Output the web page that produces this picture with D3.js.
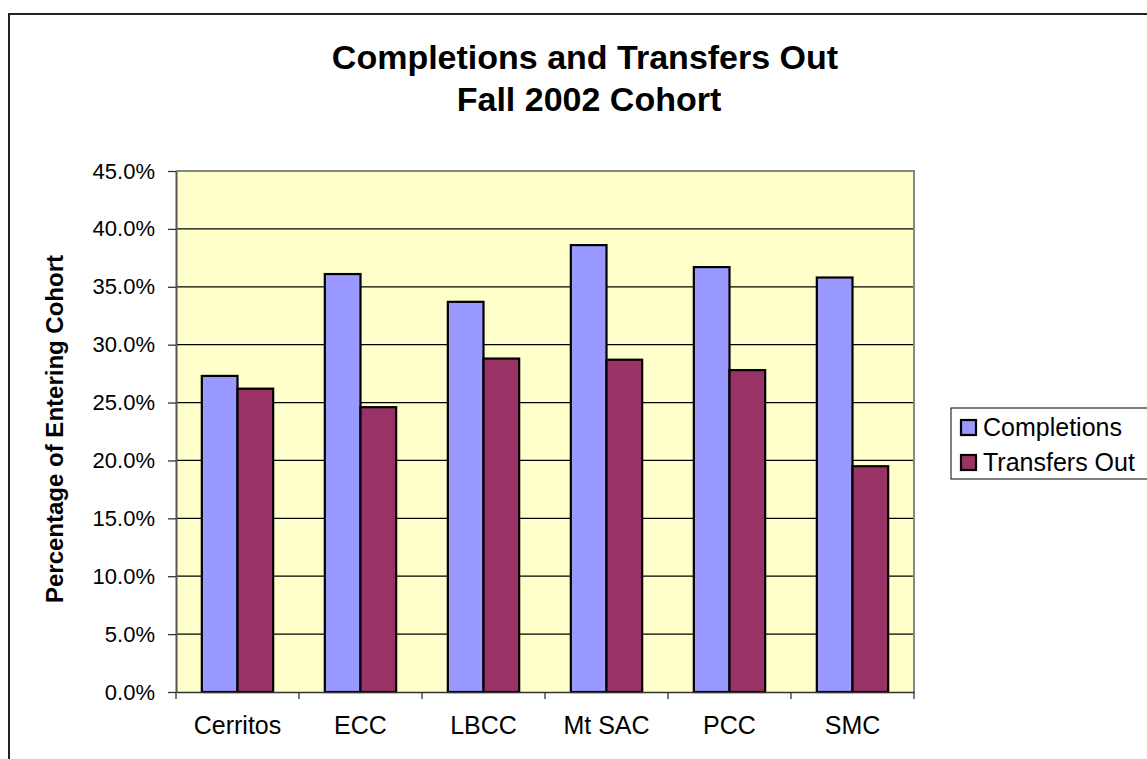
<!DOCTYPE html>
<html><head><meta charset="utf-8">
<script src="https://cdn.jsdelivr.net/npm/d3@7"></script>
<style>body{margin:0;background:#fff}svg{display:block;font-family:"Liberation Sans",Arial,sans-serif}</style>
</head><body>
<svg id="c" width="1147" height="759"></svg>
<script>
const categories = ["Cerritos","ECC","LBCC","Mt SAC","PCC","SMC"];
const seriesNames = ["Completions","Transfers Out"];
const completions = [0.273,0.361,0.337,0.386,0.367,0.358];
const transfersOut = [0.262,0.246,0.288,0.287,0.278,0.195];
const yTicks = [0,0.05,0.10,0.15,0.20,0.25,0.30,0.35,0.40,0.45];
const colors = ["#9999FF","#993366"];

const FF = "Liberation Sans, Arial, sans-serif";
const svg = d3.select("#c");
svg.append("rect").attr("x",9).attr("y",14).attr("width",1200).attr("height",800)
  .attr("fill","#fff").attr("stroke","#222").attr("stroke-width",2);

const L=176,R=914,T=171,B=692;
const x = d3.scaleBand().domain(categories).range([L,R]).paddingInner(0.42).paddingOuter(0.21);
const xs = d3.scaleBand().domain(seriesNames).range([0,x.bandwidth()]);
const y = d3.scaleLinear().domain([0,0.45]).range([B,T]);

svg.append("rect").attr("x",L).attr("y",T).attr("width",R-L).attr("height",B-T).attr("fill","#FFFFCC");
svg.append("g").selectAll("line").data(yTicks.slice(1)).join("line")
  .attr("x1",L).attr("x2",R).attr("y1",d=>y(d)).attr("y2",d=>y(d))
  .attr("stroke",(d,i)=>i===yTicks.length-2?"#888":"#000").attr("stroke-width",1.3);
svg.append("line").attr("x1",R).attr("x2",R).attr("y1",T-1).attr("y2",B).attr("stroke","#888").attr("stroke-width",2);
svg.append("line").attr("x1",L).attr("x2",R).attr("y1",T).attr("y2",T).attr("stroke","#888").attr("stroke-width",2);

const data = categories.map((c,i)=>({c, vals:[completions[i],transfersOut[i]]}));
const g = svg.append("g").selectAll("g").data(data).join("g").attr("transform",d=>`translate(${x(d.c)},0)`);
g.selectAll("rect").data(d=>d.vals.map((v,j)=>({v,s:seriesNames[j],j}))).join("rect")
  .attr("x",d=>xs(d.s)).attr("width",xs.bandwidth()).attr("y",d=>y(d.v)).attr("height",d=>B-y(d.v))
  .attr("fill",d=>colors[d.j]).attr("stroke","#000").attr("stroke-width",2.2);

const ya = svg.append("g").attr("transform",`translate(${L},0)`)
  .call(d3.axisLeft(y).tickValues(yTicks).tickFormat(d3.format(".1%")).tickSize(8).tickSizeOuter(0));
ya.select(".domain").attr("stroke","#555").attr("stroke-width",2);
ya.selectAll(".tick line").attr("stroke","#333").attr("stroke-width",1.3);
ya.selectAll("text").attr("font-size",22).attr("fill","#000").attr("x",-21).attr("font-family",FF);

const xa = svg.append("g").attr("transform",`translate(0,${B})`)
  .call(d3.axisBottom(x).tickSize(0));
xa.select(".domain").attr("stroke","#333").attr("stroke-width",1.3);
xa.selectAll("text").attr("font-size",25).attr("fill","#000").attr("dy",0).attr("y",42).attr("font-family",FF);
const step = (R-L)/categories.length;
svg.append("g").selectAll("line").data(d3.range(categories.length+1)).join("line")
  .attr("x1",i=>L+i*step).attr("x2",i=>L+i*step).attr("y1",B).attr("y2",B+7)
  .attr("stroke","#333").attr("stroke-width",1.3);

svg.append("text").attr("x",585).attr("y",69).attr("text-anchor","middle").attr("font-size",34).attr("font-weight","bold")
  .text("Completions and Transfers Out");
svg.append("text").attr("x",589).attr("y",111).attr("text-anchor","middle").attr("font-size",34).attr("font-weight","bold")
  .text("Fall 2002 Cohort");
svg.append("text").attr("transform","translate(63,429) rotate(-90)").attr("text-anchor","middle").attr("font-size",24).attr("font-weight","bold")
  .text("Percentage of Entering Cohort");

const lg = svg.append("g");
lg.append("rect").attr("x",951).attr("y",408).attr("width",220).attr("height",71).attr("fill","#fff").attr("stroke","#000").attr("stroke-width",1);
lg.selectAll("rect.sw").data(seriesNames).join("rect").attr("class","sw")
  .attr("x",961).attr("y",(d,i)=>420+i*35).attr("width",15).attr("height",15)
  .attr("fill",(d,i)=>colors[i]).attr("stroke","#000").attr("stroke-width",2.2);
lg.selectAll("text").data(seriesNames).join("text").attr("x",983).attr("y",(d,i)=>436+i*35)
  .attr("font-size",25).text(d=>d);
</script>
</body></html>
